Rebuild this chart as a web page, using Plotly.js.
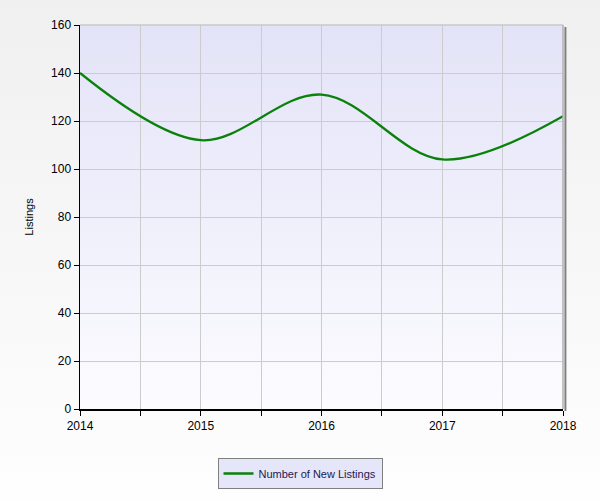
<!DOCTYPE html>
<html>
<head>
<meta charset="utf-8">
<script src="https://cdn.plot.ly/plotly-3.0.1.min.js"></script>
<style>
  html, body { margin: 0; padding: 0; }
  #chart { width: 600px; height: 500px; background: linear-gradient(to bottom, #f0f0f0 0%, #f7f7f7 50%, #fefefe 100%); }
</style>
</head>
<body>
<div id="chart"></div>
<script>
// Data
const years = [2014, 2015, 2016, 2017, 2018];
const newListings = [140, 112, 131, 104, 122];
const seriesName = 'Number of New Listings';
const yTitle = 'Listings';

const plotGradient = 'data:image/svg+xml;utf8,' + encodeURIComponent(
  '<svg xmlns="http://www.w3.org/2000/svg" width="10" height="100" preserveAspectRatio="none">' +
  '<defs><linearGradient id="g" x1="0" y1="0" x2="0" y2="1">' +
  '<stop offset="0" stop-color="#e3e3f8"/><stop offset="1" stop-color="#fcfcff"/>' +
  '</linearGradient></defs><rect width="10" height="100" fill="url(#g)"/></svg>');

const trace = {
  x: years,
  y: newListings,
  type: 'scatter',
  mode: 'lines',
  name: seriesName,
  line: { color: '#0a820a', width: 2.3, shape: 'spline', smoothing: 1 },
  hoverinfo: 'x+y'
};

const font = { family: 'Liberation Sans, Arial, sans-serif', size: 12, color: '#000000' };

const layout = {
  width: 600,
  height: 500,
  paper_bgcolor: 'rgba(0,0,0,0)',
  plot_bgcolor: 'rgba(0,0,0,0)',
  margin: { l: 80, r: 37, t: 25, b: 91 },
  font: font,
  showlegend: true,
  legend: {
    orientation: 'h',
    xref: 'container', yref: 'container',
    x: 0.5, xanchor: 'center',
    y: 0.084, yanchor: 'top',
    bgcolor: '#e6e6fa',
    bordercolor: '#808080',
    borderwidth: 1,
    font: { family: 'Liberation Sans, Arial, sans-serif', size: 11, color: '#1a1a50' }
  },
  xaxis: {
    range: [2014, 2018],
    dtick: 1,
    tick0: 2014,
    tickformat: 'd',
    ticks: 'outside',
    ticklen: 5,
    tickcolor: '#000',
    showgrid: true,
    gridcolor: '#cccccc',
    gridwidth: 1,
    minor: { dtick: 0.5, tick0: 2014, ticks: 'outside', ticklen: 5, tickcolor: '#000', showgrid: true, gridcolor: '#cccccc', gridwidth: 1 },
    showline: true,
    linecolor: '#000000',
    linewidth: 2,
    zeroline: false,
    fixedrange: true,
    tickfont: font
  },
  yaxis: {
    range: [0, 160],
    dtick: 20,
    ticks: 'outside',
    ticklen: 5,
    tickcolor: '#000',
    showgrid: true,
    gridcolor: '#cccccc',
    gridwidth: 1,
    showline: true,
    linecolor: '#000000',
    linewidth: 1.5,
    zeroline: false,
    fixedrange: true,
    tickfont: font,
    title: { text: yTitle, font: { family: 'Liberation Sans, Arial, sans-serif', size: 11, color: '#000' }, standoff: 15 }
  },
  images: [{
    source: plotGradient,
    xref: 'paper', yref: 'paper',
    x: 0, y: 1, sizex: 1, sizey: 1,
    xanchor: 'left', yanchor: 'top',
    sizing: 'stretch',
    layer: 'below'
  }],
  shapes: [
    { type: 'line', xref: 'paper', yref: 'paper', x0: 0, x1: 1, y0: 1, y1: 1, line: { color: '#c8c8c8', width: 1.5 } },
    { type: 'line', xref: 'paper', yref: 'paper', x0: 1, x1: 1, y0: 0, y1: 1, line: { color: '#b0b0b0', width: 1.5 } },
    { type: 'line', xref: 'paper', yref: 'paper', x0: 1.005, x1: 1.005, y0: -0.005, y1: 0.995, line: { color: '#808080', width: 2 } }
  ]
};

Plotly.newPlot('chart', [trace], layout, { displayModeBar: false, staticPlot: true });
</script>
</body>
</html>
